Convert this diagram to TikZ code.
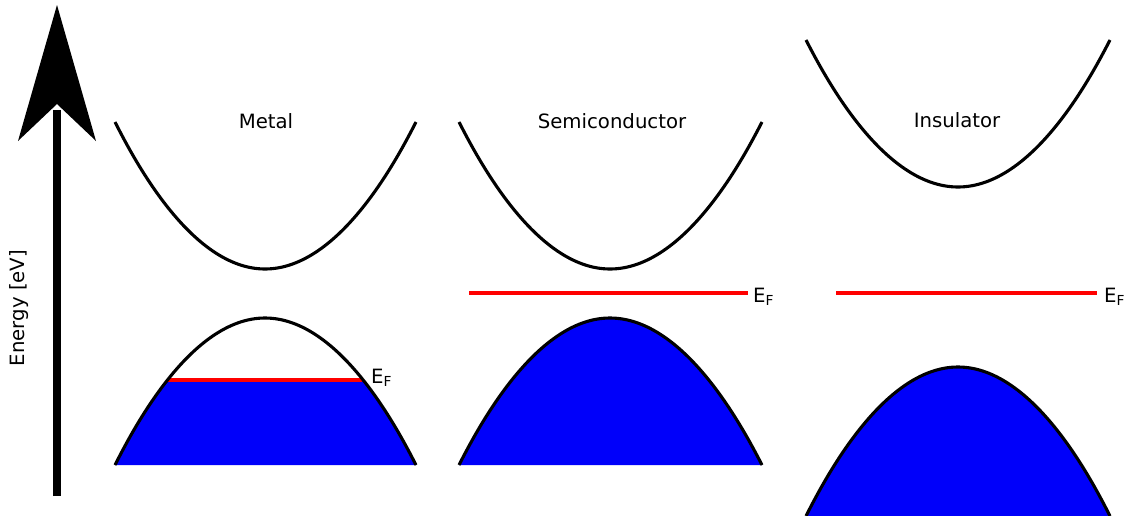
\documentclass[tikz,border=0pt]{standalone}
\usepackage{fontspec}
\setmainfont{DejaVu Sans}
\begin{document}
\begin{tikzpicture}[x=1pt,y=-1pt,
  band/.style={line width=3.1pt,black},
  fermi/.style={line width=3.3pt,red},
  fillband/.style={fill={rgb,255:red,0;green,0;blue,250}},
  lbl/.style={font=\fontsize{19.7}{22}\selectfont,inner sep=0pt},
  eflbl/.style={font=\fontsize{19.7}{22}\selectfont,inner sep=0pt,anchor=west}]
\useasboundingbox (0,0) rectangle (1136,515);
% Energy axis
\draw[line width=8pt] (57,496) -- (57,110);
\fill (57,5) -- (96,141) -- (57,104) -- (18,141) -- cycle;
\node[lbl,rotate=90] (energy) at (19,308) {Energy [eV]};
% ---- Metal ----
\node[lbl] (metal) at (266,121) {Metal};
\draw[band] (115,122) parabola bend (265,269) (416,122);
\begin{scope}
  \clip (100,380) rectangle (430,466);
  \fill[fillband] (115,465) parabola bend (265,318) (416,465) -- cycle;
\end{scope}
\draw[fermi] (167.6,380) -- (362.4,380);
\draw[band] (115,465) parabola bend (265,318) (416,465);
\node[eflbl] (ef1) at (371,378) {E\textsubscript{F}};
% ---- Semiconductor ----
\node[lbl] (semi) at (612,121) {Semiconductor};
\draw[band] (459,122) parabola bend (610,269) (762,122);
\fill[fillband] (459,465) parabola bend (610,318) (762,465) -- cycle;
\draw[band] (459,465) parabola bend (610,318) (762,465);
\draw[fermi] (469,293) -- (748,293);
\node[eflbl] (ef2) at (753,297) {E\textsubscript{F}};
% ---- Insulator ----
\node[lbl] (ins) at (957,120) {Insulator};
\draw[band] (806,40) parabola bend (958,187) (1110,40);
\fill[fillband] (806,516) parabola bend (958,367) (1110,516) -- cycle;
\draw[band] (806,516) parabola bend (958,367) (1110,516);
\draw[fermi] (836,293) -- (1097,293);
\node[eflbl] (ef3) at (1104,297) {E\textsubscript{F}};
\end{tikzpicture}
\end{document}
